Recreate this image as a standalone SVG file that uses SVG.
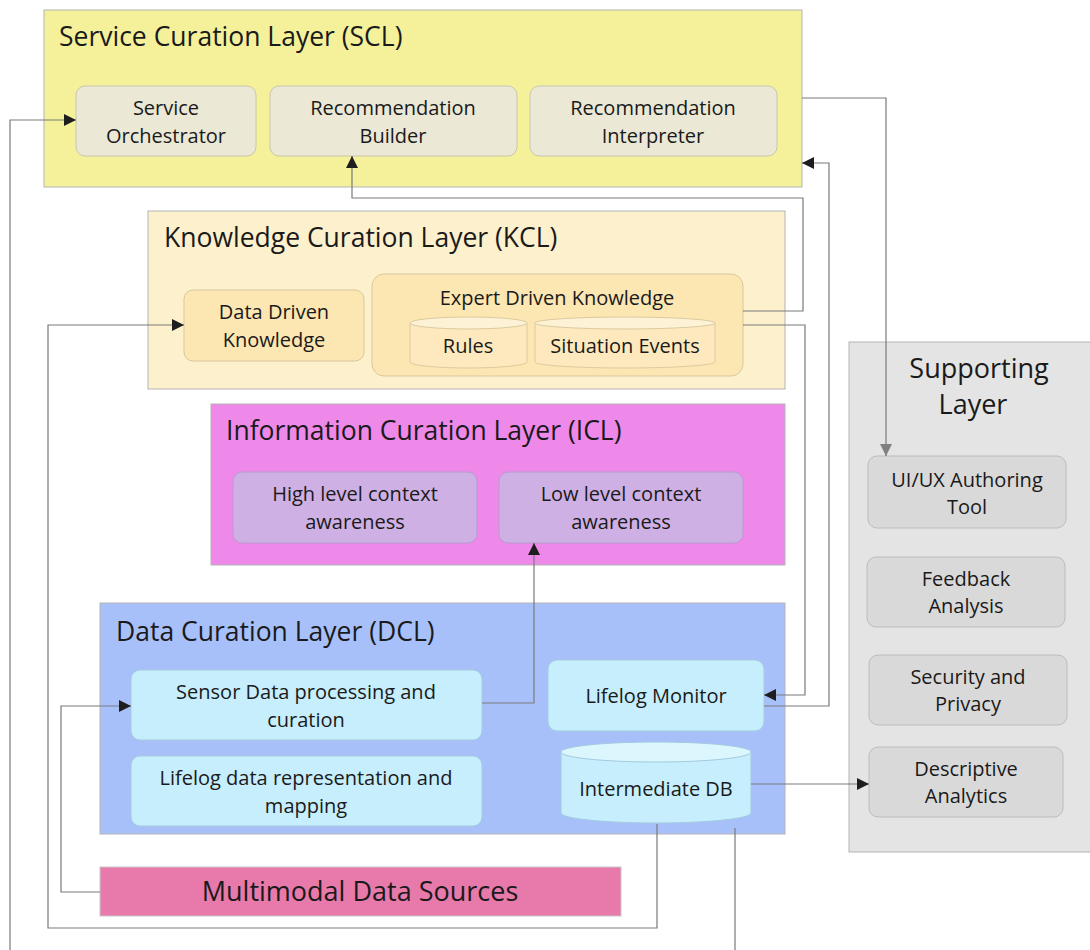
<svg xmlns="http://www.w3.org/2000/svg" width="1090" height="950" viewBox="0 0 1090 950">
  <defs>
    <marker id="arr" viewBox="0 0 12 12" refX="12" refY="6" markerWidth="12" markerHeight="12" markerUnits="userSpaceOnUse" orient="auto">
      <path d="M0,0 L12,6 L0,12 z" fill="#1e1e1e"/>
    </marker>
    <marker id="arrg" viewBox="0 0 12 12" refX="12" refY="6" markerWidth="12" markerHeight="12" markerUnits="userSpaceOnUse" orient="auto">
      <path d="M0,0 L12,6 L0,12 z" fill="#808080"/>
    </marker>
    <style>
      text { font-family: "Open Sans", "Noto Sans", "Liberation Sans", sans-serif; fill: #1a1a1a; }
      .title { font-size: 26.5px; }
      .lbl { font-size: 20px; text-anchor: middle; }
      .big { font-size: 27px; text-anchor: middle; }
      .layer { stroke: #b4b4b4; stroke-width: 1; }
      .scl { fill: #f5f19b; }
      .kcl { fill: #fdf0cc; }
      .icl { fill: #ee89ea; }
      .dcl { fill: #a8c0fa; }
      .sup { fill: #e4e4e4; }
      .mds { fill: #e879ab; stroke: #c8c8c8; }
      .sbox { fill: #ebe8d6; stroke: #c9c6b0; }
      .kbox { fill: #fce6b2; stroke: #d9c89c; }
      .kcyl { fill: #fde9bd; stroke: #dccb9f; }
      .kcyltop { fill: #fdf2d6; stroke: #dccb9f; }
      .ibox { fill: #ceb0e4; stroke: #b79ace; }
      .dbox { fill: #c6eefc; stroke: #a3cbe0; }
      .dcyltop { fill: #dcf6fd; stroke: #a3cbe0; }
      .gbox { fill: #d9d9d9; stroke: #bcbcbc; }
      .conn { fill: none; stroke: #7a7a7a; stroke-width: 1.2; }
    </style>
  </defs>

  <!-- Service Curation Layer -->
  <g id="scl">
    <rect class="layer scl" x="44" y="10" width="758" height="177"/>
    <text class="title" x="59" y="46">Service Curation Layer (SCL)</text>
  </g>
  <g id="service-orchestrator">
    <rect class="sbox" x="76" y="86" width="180" height="70" rx="9"/>
    <text class="lbl" x="166" y="115">Service</text>
    <text class="lbl" x="166" y="143">Orchestrator</text>
  </g>
  <g id="recommendation-builder">
    <rect class="sbox" x="270" y="86" width="247" height="70" rx="9"/>
    <text class="lbl" x="393" y="115">Recommendation</text>
    <text class="lbl" x="393" y="143">Builder</text>
  </g>
  <g id="recommendation-interpreter">
    <rect class="sbox" x="530" y="86" width="247" height="70" rx="9"/>
    <text class="lbl" x="653" y="115">Recommendation</text>
    <text class="lbl" x="653" y="143">Interpreter</text>
  </g>

  <!-- Knowledge Curation Layer -->
  <g id="kcl">
    <rect class="layer kcl" x="148" y="211" width="637" height="178"/>
    <text class="title" x="164" y="247">Knowledge Curation Layer (KCL)</text>
  </g>
  <g id="data-driven-knowledge">
    <rect class="kbox" x="184" y="290" width="180" height="71" rx="9"/>
    <text class="lbl" x="274" y="319">Data Driven</text>
    <text class="lbl" x="274" y="347">Knowledge</text>
  </g>
  <g id="expert-driven-knowledge">
    <rect class="kbox" x="372" y="274" width="371" height="102" rx="12"/>
    <text class="lbl" x="557" y="305">Expert Driven Knowledge</text>
  </g>
  <g id="rules">
    <path class="kcyl" d="M410,323 v39 a58.5,6 0 0,0 117,0 v-39"/>
    <ellipse class="kcyltop" cx="468.5" cy="323" rx="58.5" ry="6"/>
    <text class="lbl" x="468" y="353">Rules</text>
  </g>
  <g id="situation-events">
    <path class="kcyl" d="M535,323 v39 a90,6 0 0,0 180,0 v-39"/>
    <ellipse class="kcyltop" cx="625" cy="323" rx="90" ry="6"/>
    <text class="lbl" x="625" y="353">Situation Events</text>
  </g>

  <!-- Information Curation Layer -->
  <g id="icl">
    <rect class="layer icl" x="211" y="404" width="574" height="161"/>
    <text class="title" x="226" y="440">Information Curation Layer (ICL)</text>
  </g>
  <g id="high-level-context">
    <rect class="ibox" x="233" y="472" width="244" height="71" rx="9"/>
    <text class="lbl" x="355" y="501">High level context</text>
    <text class="lbl" x="355" y="529">awareness</text>
  </g>
  <g id="low-level-context">
    <rect class="ibox" x="499" y="472" width="244" height="71" rx="9"/>
    <text class="lbl" x="621" y="501">Low level context</text>
    <text class="lbl" x="621" y="529">awareness</text>
  </g>

  <!-- Data Curation Layer -->
  <g id="dcl">
    <rect class="layer dcl" x="100" y="603" width="685" height="231"/>
    <text class="title" x="116" y="641">Data Curation Layer (DCL)</text>
  </g>
  <g id="sensor-data-processing">
    <rect class="dbox" x="131" y="670" width="351" height="70" rx="9"/>
    <text class="lbl" x="306" y="699">Sensor Data processing and</text>
    <text class="lbl" x="306" y="727">curation</text>
  </g>
  <g id="lifelog-representation">
    <rect class="dbox" x="131" y="756" width="351" height="70" rx="9"/>
    <text class="lbl" x="306" y="785">Lifelog data representation and</text>
    <text class="lbl" x="306" y="813">mapping</text>
  </g>
  <g id="lifelog-monitor">
    <rect class="dbox" x="548" y="660" width="216" height="71" rx="9"/>
    <text class="lbl" x="656" y="703">Lifelog Monitor</text>
  </g>
  <g id="intermediate-db">
    <path class="dbox" d="M561,752 v61 a95,10 0 0,0 190,0 v-61"/>
    <ellipse class="dcyltop" cx="656" cy="752" rx="95" ry="10"/>
    <text class="lbl" x="656" y="796">Intermediate DB</text>
  </g>

  <!-- Multimodal Data Sources -->
  <g id="multimodal-data-sources">
    <rect class="mds" x="100" y="867" width="521" height="49"/>
    <text class="big" x="360" y="901">Multimodal Data Sources</text>
  </g>

  <!-- Supporting Layer -->
  <g id="supporting-layer">
    <rect class="layer sup" x="849" y="342" width="245" height="510"/>
    <text class="big" x="979" y="378">Supporting</text>
    <text class="big" x="973" y="414">Layer</text>
  </g>
  <g id="ui-ux-authoring">
    <rect class="gbox" x="868" y="456" width="198" height="72" rx="9"/>
    <text class="lbl" x="967" y="487">UI/UX Authoring</text>
    <text class="lbl" x="967" y="514">Tool</text>
  </g>
  <g id="feedback-analysis">
    <rect class="gbox" x="867" y="557" width="198" height="70" rx="9"/>
    <text class="lbl" x="966" y="586">Feedback</text>
    <text class="lbl" x="966" y="613">Analysis</text>
  </g>
  <g id="security-privacy">
    <rect class="gbox" x="869" y="655" width="198" height="70" rx="9"/>
    <text class="lbl" x="968" y="684">Security and</text>
    <text class="lbl" x="968" y="711">Privacy</text>
  </g>
  <g id="descriptive-analytics">
    <rect class="gbox" x="869" y="747" width="194" height="70" rx="9"/>
    <text class="lbl" x="966" y="776">Descriptive</text>
    <text class="lbl" x="966" y="803">Analytics</text>
  </g>

  <!-- Connectors -->
  <g id="connectors">
    <path class="conn" d="M10,950 V120 H76" marker-end="url(#arr)"/>
    <path class="conn" d="M657,824 V928 H48 V325 H184" marker-end="url(#arr)"/>
    <path class="conn" d="M100,892 H61 V706 H131" marker-end="url(#arr)"/>
    <path class="conn" d="M735,828 V950"/>
    <path class="conn" d="M482,703 H534 V543" marker-end="url(#arr)"/>
    <path class="conn" d="M743,311 H803 V198 H352 V156" marker-end="url(#arr)"/>
    <path class="conn" d="M743,325 H805 V695 H764" marker-end="url(#arr)"/>
    <path class="conn" d="M764,706 H829 V163 H802" marker-end="url(#arr)"/>
    <path class="conn" d="M802,98 H886 V456" marker-end="url(#arrg)"/>
    <path class="conn" d="M751,784 H869" marker-end="url(#arr)"/>
  </g>
</svg>
